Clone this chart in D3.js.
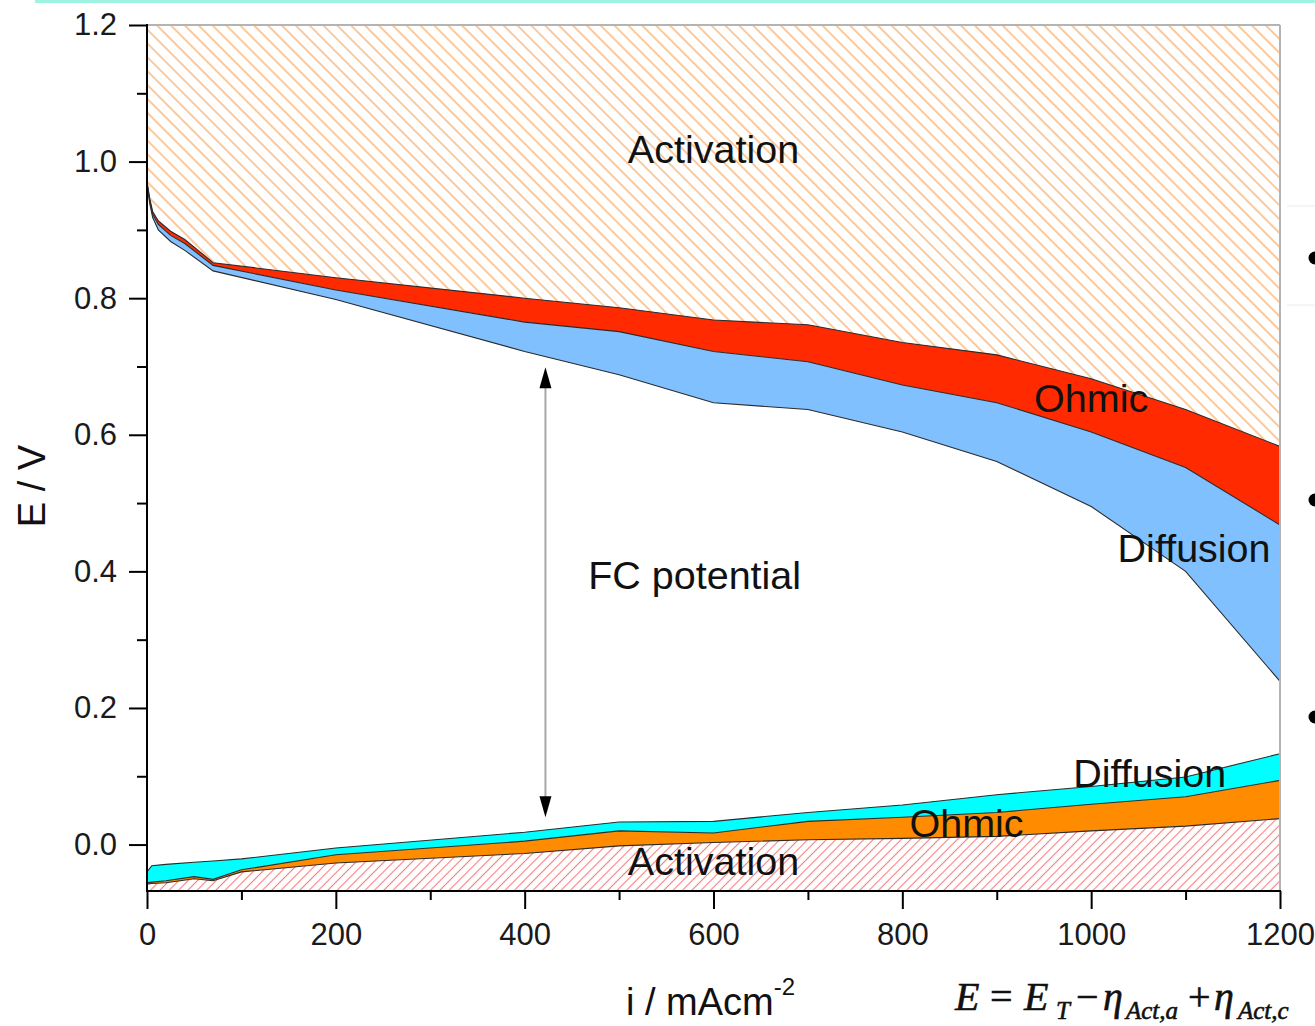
<!DOCTYPE html>
<html>
<head>
<meta charset="utf-8">
<script src="https://cdn.jsdelivr.net/npm/d3@7"></script>
<style>
  html, body { margin: 0; padding: 0; background: #fff; }
  svg { display: block; }
</style>
</head>
<body>
<svg id="chart" width="1315" height="1026" font-family="'Liberation Sans', Arial, sans-serif"></svg>
<script>
// ---------------- DATA ----------------
// upper (cathodic) branch
const iTop = [0, 3, 6, 12, 25, 40, 70, 200, 400, 500, 600, 700, 800, 900, 1000, 1100, 1200];
const eActBoundTop = [0.971, 0.945, 0.927, 0.913, 0.898, 0.886, 0.852, 0.830, 0.800, 0.786, 0.768, 0.761, 0.735, 0.717, 0.682, 0.637, 0.583];
const eOhmBoundTop = [0.969, 0.942, 0.923, 0.908, 0.892, 0.880, 0.848, 0.812, 0.765, 0.751, 0.722, 0.707, 0.673, 0.647, 0.604, 0.552, 0.468];
const eFC          = [0.965, 0.938, 0.918, 0.900, 0.883, 0.870, 0.840, 0.798, 0.722, 0.688, 0.647, 0.637, 0.604, 0.561, 0.495, 0.400, 0.239];

// lower (anodic) branch
const iBot = [0, 5, 20, 50, 70, 100, 200, 400, 500, 600, 700, 800, 900, 1000, 1100, 1200];
const eActBot = [-0.058, -0.057, -0.056, -0.050, -0.053, -0.040, -0.027, -0.013, -0.002, 0.003, 0.007, 0.009, 0.012, 0.020, 0.027, 0.038];
const eOhmBot = [-0.056, -0.055, -0.053, -0.047, -0.051, -0.037, -0.015, 0.005, 0.020, 0.017, 0.034, 0.040, 0.047, 0.059, 0.070, 0.094];
const eDifBot = [-0.040, -0.031, -0.029, -0.026, -0.024, -0.021, -0.005, 0.018, 0.033, 0.034, 0.047, 0.058, 0.073, 0.085, 0.099, 0.133];

// axes
const xMajorTicks = [0, 200, 400, 600, 800, 1000, 1200];
const xMinorTicks = [100, 300, 500, 700, 900, 1100];
const yMajorTicks = [0.0, 0.2, 0.4, 0.6, 0.8, 1.0, 1.2];
const yMinorTicks = [0.1, 0.3, 0.5, 0.7, 0.9, 1.1];
const xDomain = [0, 1200];
const yDomain = [-0.068, 1.2];

// annotations
const labelText = ["Activation", "Ohmic", "Diffusion", "FC potential", "Diffusion", "Ohmic", "Activation"];
const labelI    = [600, 1000, 1109, 580, 1062, 868, 600];
const labelE    = [0.998, 0.633, 0.414, 0.374, 0.084, 0.011, -0.0446];
const arrowI = 422;
const arrowE = [0.699, 0.040];

// ---------------- DRAW ----------------
const SANS = "'Liberation Sans', Arial, sans-serif";
const SERIF = "'Liberation Serif', 'Times New Roman', 'DejaVu Serif', serif";
const svg = d3.select("#chart");
const x = d3.scaleLinear().domain(xDomain).range([147, 1280]);
const y = d3.scaleLinear().domain(yDomain).range([891, 25]);

const defs = svg.append("defs");
function hatch(id, color, spacing, angle, width) {
  const p = defs.append("pattern").attr("id", id)
    .attr("patternUnits", "userSpaceOnUse")
    .attr("width", spacing).attr("height", spacing)
    .attr("patternTransform", `rotate(${angle})`);
  p.append("rect").attr("width", spacing).attr("height", spacing).attr("fill", "#fff");
  p.append("line").attr("x1", spacing / 2).attr("y1", 0).attr("x2", spacing / 2).attr("y2", spacing)
    .attr("stroke", color).attr("stroke-width", width);
}
hatch("hatchOrange", "#f9ad6a", 9.8, -45, 1.3);
hatch("hatchRed", "#f58080", 6.6, 45, 1.1);

defs.append("clipPath").attr("id", "plotClip").append("rect")
  .attr("x", x(0)).attr("y", y(1.2)).attr("width", x(1200) - x(0)).attr("height", y(yDomain[0]) - y(1.2));

// slide decoration: top rule
svg.append("rect").attr("x", 35).attr("y", 0).attr("width", 1280).attr("height", 3).attr("fill", "#9ff3e2");

const g = svg.append("g").attr("clip-path", "url(#plotClip)");

const topData = iTop.map((d, k) => ({ i: d, a: eActBoundTop[k], o: eOhmBoundTop[k], f: eFC[k] }));
const botData = iBot.map((d, k) => ({ i: d, a: eActBot[k], o: eOhmBot[k], f: eDifBot[k] }));

// upper regions
g.append("path").datum(topData)
  .attr("d", d3.area().x(d => x(d.i)).y0(y(1.2)).y1(d => y(d.a)))
  .attr("fill", "url(#hatchOrange)");
g.append("path").datum(topData)
  .attr("d", d3.area().x(d => x(d.i)).y0(d => y(d.a)).y1(d => y(d.o)))
  .attr("fill", "#ff2a00");
g.append("path").datum(topData)
  .attr("d", d3.area().x(d => x(d.i)).y0(d => y(d.o)).y1(d => y(d.f)))
  .attr("fill", "#80c0ff");

// lower regions
g.append("path").datum(botData)
  .attr("d", d3.area().x(d => x(d.i)).y0(y(yDomain[0])).y1(d => y(d.a)))
  .attr("fill", "url(#hatchRed)");
g.append("path").datum(botData)
  .attr("d", d3.area().x(d => x(d.i)).y0(d => y(d.a)).y1(d => y(d.o)))
  .attr("fill", "#ff8c00");
g.append("path").datum(botData)
  .attr("d", d3.area().x(d => x(d.i)).y0(d => y(d.o)).y1(d => y(d.f)))
  .attr("fill", "#00ffff");

// boundary lines
const lineStyle = sel => sel.attr("fill", "none").attr("stroke", "#2b2b2b").attr("stroke-width", 1.1);
[["a", topData], ["o", topData], ["f", topData], ["a", botData], ["o", botData], ["f", botData]].forEach(([k, data]) => {
  g.append("path").datum(data)
    .attr("d", d3.line().x(d => x(d.i)).y(d => y(d[k])))
    .call(lineStyle);
});

// frame (top and right, gray)
svg.append("line").attr("x1", x(0)).attr("x2", x(1200)).attr("y1", y(1.2)).attr("y2", y(1.2))
  .attr("stroke", "#b4b4b4").attr("stroke-width", 2);
svg.append("line").attr("x1", x(1200)).attr("x2", x(1200)).attr("y1", y(1.2)).attr("y2", y(yDomain[0]))
  .attr("stroke", "#b4b4b4").attr("stroke-width", 2);

// axes
function styleAxis(sel, fs) {
  sel.select(".domain").remove();
  sel.attr("font-family", SANS);
  sel.selectAll(".tick line").attr("stroke", "#000").attr("stroke-width", 2);
  sel.selectAll(".tick text").attr("font-size", fs).attr("fill", "#1a1a1a");
}
svg.append("g").attr("transform", `translate(${x(0)},0)`)
  .call(d3.axisLeft(y).tickValues(yMajorTicks).tickFormat(d3.format(".1f")).tickSize(18).tickPadding(12))
  .call(s => styleAxis(s, 31));
svg.append("g").attr("transform", `translate(${x(0)},0)`)
  .call(d3.axisLeft(y).tickValues(yMinorTicks).tickFormat("").tickSize(10))
  .call(s => styleAxis(s, 31));
svg.append("g").attr("transform", `translate(0,${y(yDomain[0])})`)
  .call(d3.axisBottom(x).tickValues(xMajorTicks).tickFormat(d3.format("d")).tickSize(18).tickPadding(14))
  .call(s => styleAxis(s, 31));
svg.append("g").attr("transform", `translate(0,${y(yDomain[0])})`)
  .call(d3.axisBottom(x).tickValues(xMinorTicks).tickFormat("").tickSize(9))
  .call(s => styleAxis(s, 31));
// axis lines
svg.append("line").attr("x1", x(0)).attr("x2", x(0)).attr("y1", y(1.2) - 1).attr("y2", y(yDomain[0]) + 1)
  .attr("stroke", "#000").attr("stroke-width", 2);
svg.append("line").attr("x1", x(0) - 1).attr("x2", x(1200) + 1).attr("y1", y(yDomain[0])).attr("y2", y(yDomain[0]))
  .attr("stroke", "#000").attr("stroke-width", 2);

// axis titles
svg.append("text").attr("transform", `translate(45,${y(0.525)}) rotate(-90)`)
  .attr("font-family", SANS)
  .attr("text-anchor", "middle").attr("font-size", 38).attr("fill", "#111").text("E / V");
const xt = svg.append("text").attr("x", 626).attr("y", 1015).attr("font-family", SANS)
  .attr("font-size", 38).attr("fill", "#111");
xt.append("tspan").text("i / mAcm");
xt.append("tspan").attr("font-size", 24).attr("dy", -20).text("-2");

// arrow
const ax = x(arrowI), yT = y(arrowE[0]), yB = y(arrowE[1]);
svg.append("line").attr("x1", ax).attr("x2", ax).attr("y1", yT + 18).attr("y2", yB - 18)
  .attr("stroke", "#a8a8a8").attr("stroke-width", 2);
svg.append("path").attr("d", `M${ax},${yT} L${ax - 6},${yT + 21} L${ax + 6},${yT + 21} Z`).attr("fill", "#000");
svg.append("path").attr("d", `M${ax},${yB} L${ax - 6},${yB - 21} L${ax + 6},${yB - 21} Z`).attr("fill", "#000");

// region labels
labelText.forEach((t, k) => {
  svg.append("text").attr("x", x(labelI[k])).attr("y", y(labelE[k]))
    .attr("font-family", SANS)
    .attr("text-anchor", "middle").attr("font-size", 39.5).attr("fill", "#111").text(t);
});

// slide fragments on the right
svg.append("line").attr("x1", 1287).attr("x2", 1315).attr("y1", 206).attr("y2", 206).attr("stroke", "#ececec").attr("stroke-width", 1);
svg.append("line").attr("x1", 1287).attr("x2", 1315).attr("y1", 305).attr("y2", 305).attr("stroke", "#ececec").attr("stroke-width", 1);
[258, 500, 717].forEach(cy => {
  svg.append("circle").attr("cx", 1315).attr("cy", cy).attr("r", 6.5).attr("fill", "#000");
});

// equation fragment (cut off by the slide edge)
const eq = svg.append("text").attr("y", 1010)
  .style("font-family", SERIF)
  .attr("font-size", 40).attr("fill", "#111")
  .attr("stroke", "#111").attr("stroke-width", 0.6);
const eqParts = [
  { t: "E", x: 955, s: 40, dy: 0 },
  { t: "=", x: 990, s: 40, dy: 0, n: true },
  { t: "E", x: 1024, s: 40, dy: 0 },
  { t: "T", x: 1056, s: 25, dy: 9 },
  { t: "\u2212", x: 1076, s: 40, dy: -9, n: true },
  { t: "\u03B7", x: 1103, s: 40, dy: 0 },
  { t: "Act,a", x: 1126, s: 25, dy: 9 },
  { t: "+", x: 1188, s: 40, dy: -9, n: true },
  { t: "\u03B7", x: 1214, s: 40, dy: 0 },
  { t: "Act,c", x: 1238, s: 25, dy: 9 }
];
eqParts.forEach(p => {
  eq.append("tspan").attr("x", p.x).attr("dy", p.dy).attr("font-size", p.s)
    .style("font-style", p.n ? "normal" : "italic").text(p.t);
});
</script>
</body>
</html>
